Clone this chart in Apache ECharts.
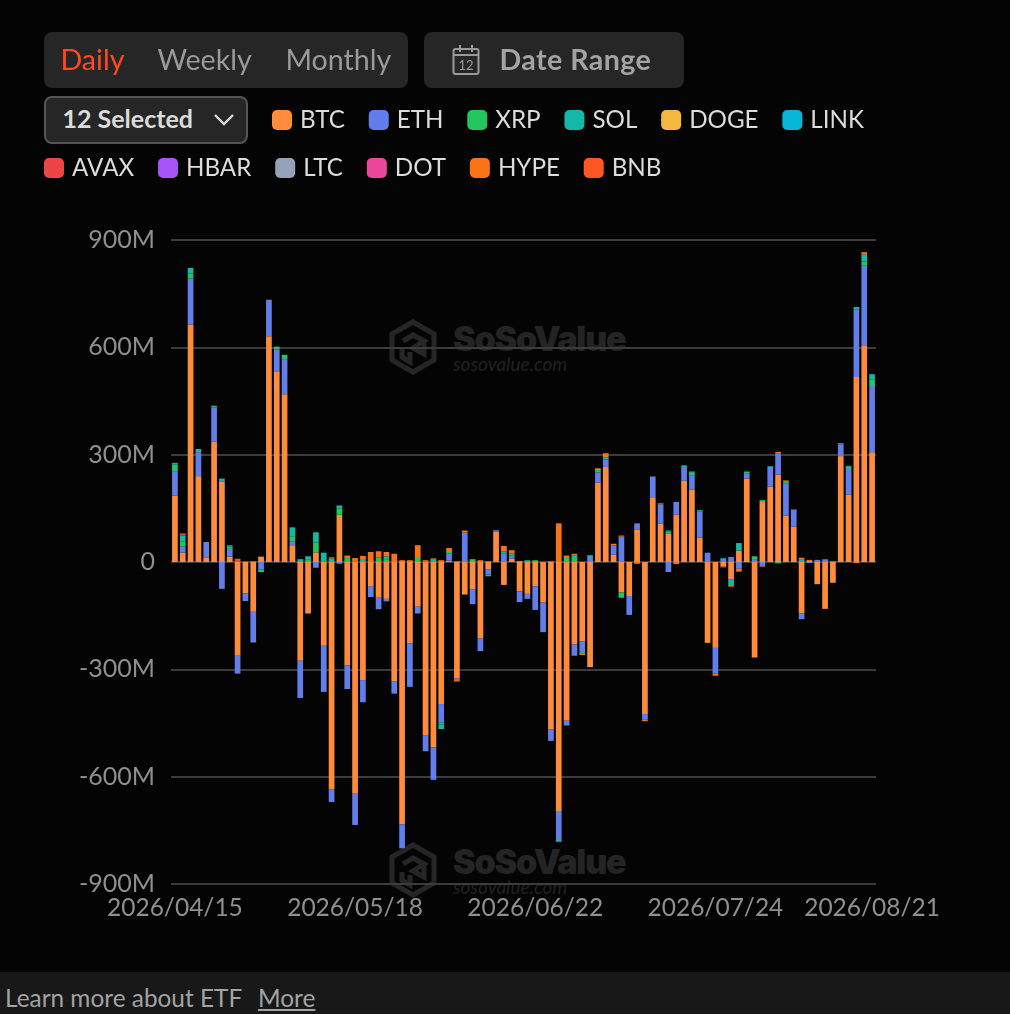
<!DOCTYPE html>
<html><head><meta charset="utf-8">
<script src="https://cdn.jsdelivr.net/npm/echarts@6/dist/echarts.min.js"></script>
<style>
html,body{margin:0;padding:0;background:#040404;width:1010px;height:1014px;overflow:hidden;font-family:Lato,sans-serif}
#chart{position:absolute;left:0;top:0;width:1010px;height:1014px}
.box{position:absolute;background:#262626;border-radius:8px;box-sizing:border-box}
.t{position:absolute;white-space:nowrap;line-height:1}
.wm{position:absolute;left:389px;width:240px;height:56px}
.wm svg{position:absolute;left:0;top:0}
.wm b{position:absolute;left:64px;top:3px;font:900 34px Inter,Lato;letter-spacing:-1.2px;color:#242424;line-height:1}
.wm i{position:absolute;left:64px;top:35px;font:italic 19px Lato;color:#212121;line-height:1}
#foot{position:absolute;left:0;top:972px;width:1010px;height:42px;background:#181818;color:#a3a3a3;font-size:24.4px}
</style></head><body>
<div class="wm" style="top:319px"><svg width="48" height="56" viewBox="0 0 48 56" fill="none" stroke="#262626" stroke-width="5"><path d="M24 3L45 15V41L24 53L3 41V15Z M14 22L24 16L35 22L24 29L35 35V24 M13 30V38L21 43V33"/></svg><b>SoSoValue</b><i>sosovalue.com</i></div>
<div class="wm" style="top:842px"><svg width="48" height="56" viewBox="0 0 48 56" fill="none" stroke="#262626" stroke-width="5"><path d="M24 3L45 15V41L24 53L3 41V15Z M14 22L24 16L35 22L24 29L35 35V24 M13 30V38L21 43V33"/></svg><b>SoSoValue</b><i>sosovalue.com</i></div>
<div id="chart"></div>
<div class="box" style="left:44px;top:32px;width:364px;height:56px"></div>
<div class="t" style="left:60.5px;top:45px;font-size:28.6px;color:#ff4a22">Daily</div>
<div class="t" style="left:157.5px;top:45px;font-size:28.6px;color:#9a9a9a">Weekly</div>
<div class="t" style="left:285.5px;top:45px;font-size:28.6px;color:#9a9a9a">Monthly</div>
<div class="box" style="left:424px;top:32px;width:260px;height:56px"></div>
<svg style="position:absolute;left:452px;top:44px" width="28" height="32" viewBox="0 0 28 32" fill="none" stroke="#9a9a9a" stroke-width="2"><rect x="1.5" y="5" width="25" height="25" rx="2"/><path d="M1.5 11H26.5M8 1V8M20 1V8"/><text x="14" y="26" text-anchor="middle" font-size="13" font-family="Lato" fill="#9a9a9a" stroke="none">12</text></svg>
<div class="t" style="left:499.5px;top:45px;font-size:28.6px;letter-spacing:.45px;font-weight:700;color:#a3a3a3">Date Range</div>
<div class="box" style="left:44px;top:96px;width:204px;height:48px;border:2px solid #555"></div>
<div class="t" style="left:62.5px;top:106px;font-size:25px;font-weight:700;color:#dcdcdc">12 Selected</div>
<svg style="position:absolute;left:213px;top:113px" width="22" height="14" fill="none" stroke="#dcdcdc" stroke-width="2.4"><path d="M2 2L11 11L20 2"/></svg>
<div id="foot"><span class="t" style="left:5px;top:14px">Learn more about ETF</span><span class="t" style="left:258px;top:14px;text-decoration:underline">More</span></div>
<script>
const dates=['2026/04/15','2026/05/18','2026/06/22','2026/07/24','2026/08/21'];
const dateIndex=[0,23,46,69,89];
const names=['BTC','ETH','XRP','SOL','DOGE','LINK','AVAX','HBAR','LTC','DOT','HYPE','BNB'];
const colors=['#FF8C3C','#627EEA','#22C55E','#14B8A6','#F5B83D','#06B6D4','#EF4444','#A855F7','#94A3B8','#EC4899','#F97316','#FF5722'];
const BTC=[186,26,664,240,13,337,224,15,-262,-88,
-137,15,631,533,469,47,-276,-144,27,-232,
-635,132,-289,-648,-330,-69,-100,-103,-333,-733,
-227,-125,-484,-518,-397,4,-325,-91,-77,-213,
-20,85,-64,9,-82,-89,-68,-113,-468,-696,
-444,-230,-222,-294,222,266,20,-85,-95,90,
-425,181,107,79,132,227,202,68,-226,-240,
-13,-48,32,233,-267,170,211,244,130,99,
-144,3,-62,-131,-58,296,188,517,606,307];
const ETH=[68,18,128,67,43,95,-75,22,-50,-21,
-88,-21,102,61,98,11,-104,0,-16,-131,
-36,-5,-66,-87,-62,-29,-32,-7,-35,-67,
-122,-19,-45,-91,-52,19,-5,82,-41,-36,
-15,4,23,9,-30,-14,-66,-83,-32,-81,
-13,-32,-27,14,28,20,27,71,-53,18,
-15,58,54,-28,36,36,39,73,26,-72,
9,14,-19,15,8,-11,55,60,90,48,
-16,-3,6,6,0,33,72,188,222,185];
const XRP=[18,14,14,0,0,0,0,6,0,1,
2,-7,0,8,12,14,0,6,28,2,
0,18,11,0,0,0,12,8,0,0,
0,14,2,0,-5,5,2,0,8,0,
0,0,0,6,0,0,5,0,2,0,
14,14,0,0,7,0,0,-15,0,0,
0,0,0,6,0,0,8,0,0,0,
0,0,0,5,8,3,0,-4,4,0,
0,0,0,0,0,0,6,0,12,17];
const SOL=[5,16,16,9,0,5,9,4,0,0,
0,0,0,0,0,23,8,10,28,24,
10,8,0,3,6,0,0,8,0,0,
0,0,0,6,-13,0,0,0,0,0,
-5,0,6,0,0,5,0,0,0,-5,
0,5,-6,5,0,7,0,0,0,0,
0,0,0,3,0,7,4,4,0,0,
2,-19,21,0,0,0,2,0,0,0,
8,0,0,2,2,3,3,8,19,11];
const blank=BTC.map(()=>0);
const DOGE=blank.slice();
const LINK=blank.map((v,i)=>i===89?5:0);
const AVAX=blank.map((v,i)=>(i===1||i===8)?6:0);
const HBAR=blank.map((v,i)=>i===15?2:0);
const LTC=blank.slice();
const DOT=blank.slice();
const HYPE=[0,0,0,0,0,0,0,0,3,0,
0,0,0,0,0,0,0,0,0,0,
3,0,7,8,11,28,18,12,23,5,
5,33,3,4,5,11,-4,6,0,5,
2,0,16,9,3,0,0,0,0,108,
4,4,-5,0,5,11,4,3,0,-5,
-5,0,3,0,-6,0,0,0,0,-6,
-2,-2,-8,0,0,-2,0,4,4,0,
4,3,0,0,0,0,0,-3,7,0];
const BNB=blank.slice();
const seriesValues=[BTC,ETH,XRP,SOL,DOGE,LINK,AVAX,HBAR,LTC,DOT,HYPE,BNB];
const cats=BTC.map((v,i)=>{const k=dateIndex.indexOf(i);return k>=0?dates[k]:'d'+i;});

const chart=echarts.init(document.getElementById('chart'),null,{renderer:'canvas'});
const legendBase={icon:'roundRect',itemWidth:20,itemHeight:20,itemGap:23.8,selectedMode:false,padding:0,
 textStyle:{color:'#dcdcdc',fontFamily:'Lato',fontSize:24.2,padding:[0,0,2,3]}};
chart.setOption({
 backgroundColor:'transparent',animation:false,
 legend:[
  Object.assign({},legendBase,{left:272,top:108,data:names.slice(0,6)}),
  Object.assign({},legendBase,{left:44,top:156,data:names.slice(6)})
 ],
 grid:{left:171,right:134,top:240,bottom:130},
 xAxis:{type:'category',data:cats,axisTick:{show:false},axisLine:{show:false},splitLine:{show:false},
  axisLabel:{interval:(i)=>dateIndex.includes(i),color:'#8f8f8f',fontFamily:'Lato',fontSize:24.5,margin:12,hideOverlap:false,
   formatter:v=>v.startsWith('d')?'':v}},
 yAxis:{type:'value',min:-900,max:900,interval:300,
  axisLine:{show:false},axisTick:{show:false},
  splitLine:{lineStyle:{color:'#3c3c3c',width:2}},
  axisLabel:{color:'#8f8f8f',fontFamily:'Lato',fontSize:25,margin:16,padding:[0,0,12,0],formatter:v=>v===0?'0':v+'M'}},
 series:names.map((n,i)=>({name:n,type:'bar',stack:'flow',barWidth:5.7,data:seriesValues[i],
  itemStyle:{color:colors[i]},z:3}))
});
</script></body></html>
